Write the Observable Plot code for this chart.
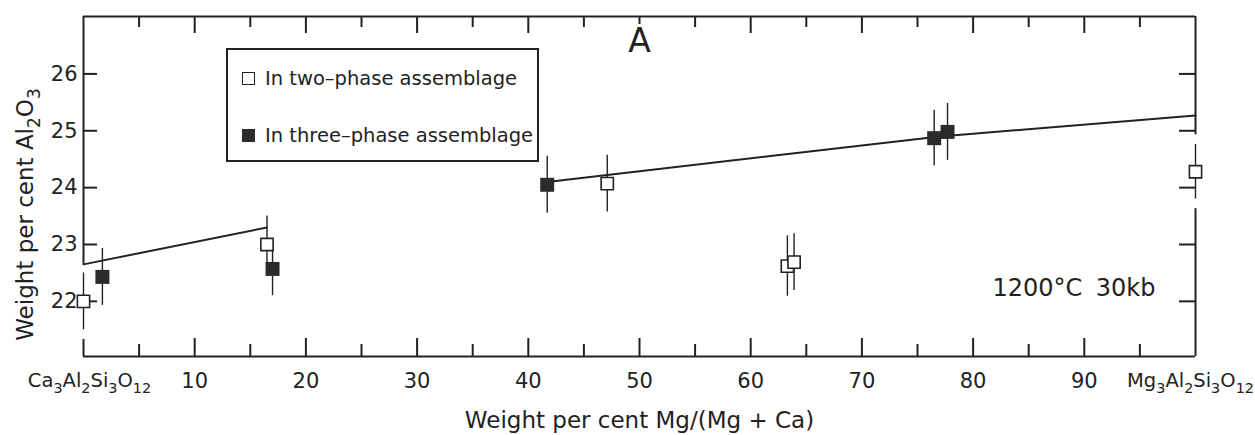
<!DOCTYPE html>
<html>
<head>
<meta charset="utf-8">
<script src="https://cdn.jsdelivr.net/npm/d3@7"></script>
<script src="https://cdn.jsdelivr.net/npm/@observablehq/plot@0.6"></script>
<style>
  html, body { margin: 0; padding: 0; background: #fff; }
  #wrap { position: relative; width: 1255px; height: 435px; font-family: "DejaVu Sans", sans-serif; color: #222; }
  #wrap svg { position: absolute; left: 0; top: 0; }
  #legend { position: absolute; left: 226px; top: 48px; width: 313px; height: 114px; border: 2px solid #222; box-sizing: border-box; background: #fff; }
  #legend .item { position: absolute; left: 14px; height: 24px; display: flex; align-items: center; font-size: 19.5px; white-space: pre; }
  #legend .sw { width: 13px; height: 13px; box-sizing: border-box; margin-right: 10px; flex: none; }
  #legend .open { border: 1.6px solid #222; background: #fff; }
  #legend .filled { background: #2b2b2b; }
</style>
</head>
<body>
<div id="wrap">
  <div id="legend"></div>
</div>
<script>
// ---------- data ----------
const twoPhaseX   = [0, 16.5, 47.1, 63.3, 63.9, 100];
const twoPhaseY   = [22.0, 23.0, 24.07, 22.62, 22.69, 24.28];
const twoPhaseErr = [0.5, 0.5, 0.5, 0.53, 0.5, 0.48];

const threePhaseX   = [1.7, 17.0, 41.7, 76.5, 77.7];
const threePhaseY   = [22.43, 22.57, 24.05, 24.87, 24.98];
const threePhaseErr = [0.5, 0.47, 0.5, 0.49, 0.5];

const curve1X = [0, 16.5];
const curve1Y = [22.65, 23.30];
const curve2X = [41.7, 77, 100];
const curve2Y = [24.1, 24.9, 25.27];

const xLabelValues = [0, 10, 20, 30, 40, 50, 60, 70, 80, 90, 100];
const xLabelTexts  = ["Ca₃Al₂Si₃O₁₂", "10", "20", "30", "40", "50", "60", "70", "80", "90", "Mg₃Al₂Si₃O₁₂"];
const xMajorTicks  = [10, 20, 30, 40, 50, 60, 70, 80, 90];
const xMinorTicks  = [5, 15, 25, 35, 45, 55, 65, 75, 85, 95];
const yTicks       = [22, 23, 24, 25, 26];

const legendTexts = ["In two–phase assemblage", "In three–phase assemblage"];
const xTitle = "Weight per cent Mg/(Mg + Ca)";
const yTitle = "Weight per cent Al₂O₃";
const panelLabel = "A";
const conditionLabels = ["1200°C", "30kb"];

// ---------- layout ----------
const W = 1255, H = 435, mL = 83, mR = 60, mT = 16, mB = 79;
const pw = W - mL - mR, ph = H - mT - mB;
const yDomain = [21.03, 27.01];
const ink = "#222";
const gap = 0.17;

const two = twoPhaseX.map((x, i) => ({x, y: twoPhaseY[i], err: twoPhaseErr[i]}));
const three = threePhaseX.map((x, i) => ({x, y: threePhaseY[i], err: threePhaseErr[i]}));
const curve1 = curve1X.map((x, i) => ({x, y: curve1Y[i]}));
const curve2 = curve2X.map((x, i) => ({x, y: curve2Y[i]}));

// frame pieces (broken where the end points sit on the frame)
const leftEnd = two[0], rightEnd = two[two.length - 1];
const leftFrame = [
  {x: 0, y1: curve1Y[0], y2: yDomain[1]},
  {x: 0, y1: yDomain[0], y2: leftEnd.y - leftEnd.err - gap}
];
const rightFrame = [
  {x: 100, y1: rightEnd.y + rightEnd.err + gap, y2: yDomain[1]},
  {x: 100, y1: yDomain[0], y2: rightEnd.y - rightEnd.err - gap}
];

const topMajor = xMajorTicks.filter(d => d !== 50);
const topShort = xMajorTicks.filter(d => d === 50);

const svg = Plot.plot({
  width: W, height: H,
  marginLeft: mL, marginRight: mR, marginTop: mT, marginBottom: mB,
  x: {domain: [0, 100]},
  y: {domain: yDomain},
  style: {fontFamily: '"DejaVu Sans", sans-serif', fontSize: "21px", color: ink, background: "transparent"},
  marks: [
    // frame
    Plot.ruleY([yDomain[1]], {stroke: ink, strokeWidth: 2}),
    Plot.ruleY([yDomain[0]], {stroke: ink, strokeWidth: 2}),
    Plot.ruleX(leftFrame, {x: "x", y1: "y1", y2: "y2", stroke: ink, strokeWidth: 2}),
    Plot.ruleX(rightFrame, {x: "x", y1: "y1", y2: "y2", stroke: ink, strokeWidth: 2}),
    // inward ticks, bottom
    Plot.tickX(xMajorTicks, {x: d => d, insetTop: ph - 18, stroke: ink, strokeWidth: 2}),
    Plot.tickX(xMinorTicks, {x: d => d, insetTop: ph - 12, stroke: ink, strokeWidth: 2}),
    // inward ticks, top
    Plot.tickX(topMajor, {x: d => d, insetBottom: ph - 17, stroke: ink, strokeWidth: 2}),
    Plot.tickX(topShort, {x: d => d, insetBottom: ph - 8, stroke: ink, strokeWidth: 2}),
    Plot.tickX(xMinorTicks, {x: d => d, insetBottom: ph - 11, stroke: ink, strokeWidth: 2}),
    // inward ticks, left and right
    Plot.tickY(yTicks, {y: d => d, insetRight: pw - 14, stroke: ink, strokeWidth: 2}),
    Plot.tickY(yTicks, {y: d => d, insetLeft: pw - 16, stroke: ink, strokeWidth: 2}),
    // tick labels
    Plot.axisX(xLabelValues, {anchor: "bottom", tickSize: 0, tickPadding: 17, fontSize: 21, label: null,
      tickFormat: d => xLabelTexts[xLabelValues.indexOf(d)]}),
    Plot.axisY(yTicks, {anchor: "left", tickSize: 0, tickPadding: 6, fontSize: 21, label: null,
      tickFormat: d => String(d)}),
    // trend lines
    Plot.line(curve1, {x: "x", y: "y", stroke: ink, strokeWidth: 2}),
    Plot.line(curve2, {x: "x", y: "y", stroke: ink, strokeWidth: 2}),
    // error bars
    Plot.ruleX(two, {x: "x", y1: d => d.y - d.err, y2: d => d.y + d.err, stroke: ink, strokeWidth: 1.4}),
    Plot.ruleX(three, {x: "x", y1: d => d.y - d.err, y2: d => d.y + d.err, stroke: ink, strokeWidth: 1.4}),
    // points
    Plot.dot(three, {x: "x", y: "y", symbol: "square", r: 7.9, fill: "#2b2b2b", stroke: "none"}),
    Plot.dot(two, {x: "x", y: "y", symbol: "square", r: 6.9, fill: "#fff", stroke: ink, strokeWidth: 1.6}),
    // annotations
    Plot.text([panelLabel], {frameAnchor: "top", textAnchor: "middle", lineAnchor: "top", dy: 12, fontSize: 33, fill: ink}),
    Plot.text([conditionLabels[0]], {frameAnchor: "bottom-right", textAnchor: "start", lineAnchor: "middle", dx: -203, dy: -68, fontSize: 24, fill: ink}),
    Plot.text([conditionLabels[1]], {frameAnchor: "bottom-right", textAnchor: "end", lineAnchor: "middle", dx: -40, dy: -68, fontSize: 24, fill: ink}),
    // axis titles
    Plot.text([xTitle], {frameAnchor: "bottom", textAnchor: "middle", lineAnchor: "middle", dy: 64, fontSize: 23, fill: ink}),
    Plot.text([yTitle], {frameAnchor: "left", textAnchor: "middle", lineAnchor: "middle", rotate: -90, dx: -58, dy: 28, fontSize: 23, fill: ink})
  ]
});

document.getElementById("wrap").prepend(svg);

// render subscript digits as real lowered, smaller text
const SUB = "₀₁₂₃₄₅₆₇₈₉";
d3.select(svg).selectAll("text").each(function () {
  const s = this.textContent;
  if (![...s].some(c => SUB.includes(c))) return;
  const el = d3.select(this);
  const isFormula = s.startsWith("Ca") || s.startsWith("Mg");
  if (isFormula) {
    el.attr("font-size", 19.5);
    el.attr("dx", s.startsWith("Ca") ? 6 : -5);
  }
  const fs = isFormula ? 19.5 : (parseFloat(getComputedStyle(this).fontSize) || 21);
  const shift = fs * 0.3;
  const runs = [];
  for (const c of s) {
    const sub = SUB.includes(c);
    const ch = sub ? String(SUB.indexOf(c)) : c;
    if (runs.length && runs[runs.length - 1].sub === sub) runs[runs.length - 1].t += ch;
    else runs.push({sub, t: ch});
  }
  el.text(null);
  let lowered = false;
  for (const r of runs) {
    const ts = el.append("tspan").text(r.t);
    if (r.sub) { ts.attr("font-size", (fs * 0.74) + "px"); if (!lowered) { ts.attr("dy", shift); lowered = true; } }
    else if (lowered) { ts.attr("dy", -shift); lowered = false; }
  }
});

// legend
const legend = d3.select("#legend");
[["open", 16], ["filled", 73]].forEach(([cls, top], i) => {
  const item = legend.append("div").attr("class", "item").style("top", top + "px");
  item.append("span").attr("class", "sw " + cls);
  item.append("span").text(legendTexts[i]);
});
</script>
</body>
</html>
